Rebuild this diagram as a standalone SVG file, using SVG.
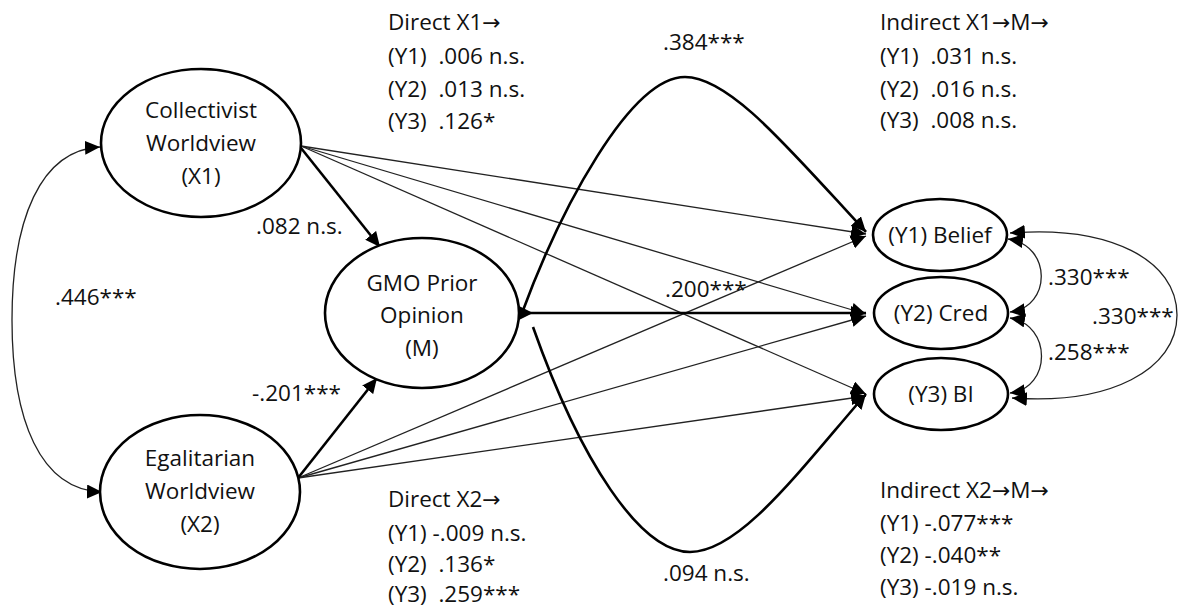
<svg xmlns="http://www.w3.org/2000/svg" width="1183" height="610" viewBox="0 0 1183 610">
  <style>
    text { font-family: "Open Sans", "Noto Sans", "Liberation Sans", sans-serif; font-size: 22.5px; fill: #111; white-space: pre; }
    .ar { font-family: "DejaVu Sans", sans-serif; font-size: 22px; }
    .node ellipse { fill: #fff; stroke: #000; stroke-width: 2.6; }
    .lbl { text-anchor: middle; }
    .thin { fill: none; stroke: #222; stroke-width: 1.3; marker-end: url(#arr); }
    .thick { fill: none; stroke: #000; stroke-width: 2.6; marker-end: url(#arr); }
    .cov { fill: none; stroke: #222; stroke-width: 1.3; marker-start: url(#arr); marker-end: url(#arr); }
  </style>
  <defs>
    <marker id="arr" markerUnits="userSpaceOnUse" markerWidth="16" markerHeight="14" refX="15" refY="7" orient="auto-start-reverse">
      <path d="M0,0 L15,7 L0,14 z" fill="#000"/>
    </marker>
  </defs>
  <rect width="1183" height="610" fill="#fff"/>

  <!-- paths and covariances -->
  <g id="connectors">
    <!-- X1 direct paths -->
    <line class="thin" x1="301" y1="146" x2="866" y2="234"/>
    <line class="thin" x1="301" y1="146" x2="866" y2="314"/>
    <line class="thin" x1="301" y1="146" x2="866" y2="394"/>
    <!-- X2 direct paths -->
    <line class="thin" x1="298" y1="478" x2="866" y2="236"/>
    <line class="thin" x1="298" y1="478" x2="866" y2="316"/>
    <line class="thin" x1="298" y1="478" x2="866" y2="396"/>
    <!-- X to mediator -->
    <line class="thick" x1="301" y1="148" x2="380" y2="247"/>
    <line class="thick" x1="298" y1="478" x2="377" y2="378"/>
    <!-- mediator to outcomes -->
    <line class="thick" x1="522" y1="313" x2="866" y2="313"/>
    <path class="thick" d="M522,313 C560,210 630,77 685,77 C730,77 790,150 866,232"/>
    <path class="thick" d="M533,327 C580,460 640,552 690,552 C740,552 800,470 866,394"/>
    <polygon points="519,306 519,320 533,313" fill="#000"/>
    <!-- covariances -->
    <path class="cov" d="M100,147 C40,150 12,220 12,320 C12,420 40,490 102,492"/>
    <path class="cov" d="M1008,239 C1052,245 1052,307 1010,312"/>
    <path class="cov" d="M1010,318 C1052,325 1052,388 1010,393"/>
    <path class="cov" d="M1010,233 C1110,225 1177,260 1177,315 C1177,370 1110,405 1012,398"/>
  </g>

  <g id="x1" class="node">
    <ellipse cx="201" cy="143" rx="100" ry="74"/>
    <text class="lbl" x="201" y="118">Collectivist</text>
    <text class="lbl" x="201" y="151">Worldview</text>
    <text class="lbl" x="201" y="184">(X1)</text>
  </g>
  <g id="x2" class="node">
    <ellipse cx="200" cy="492" rx="100" ry="77"/>
    <text class="lbl" x="200" y="466">Egalitarian</text>
    <text class="lbl" x="200" y="499">Worldview</text>
    <text class="lbl" x="200" y="532">(X2)</text>
  </g>
  <g id="m" class="node">
    <ellipse cx="422" cy="313" rx="97" ry="75"/>
    <text class="lbl" x="422" y="291">GMO Prior</text>
    <text class="lbl" x="422" y="323">Opinion</text>
    <text class="lbl" x="422" y="356">(M)</text>
  </g>
  <g id="y1" class="node">
    <ellipse cx="940" cy="235" rx="67" ry="36"/>
    <text class="lbl" x="940" y="243">(Y1) Belief</text>
  </g>
  <g id="y2" class="node">
    <ellipse cx="941" cy="313" rx="67" ry="36"/>
    <text class="lbl" x="941" y="321">(Y2) Cred</text>
  </g>
  <g id="y3" class="node">
    <ellipse cx="941" cy="394" rx="67" ry="36"/>
    <text class="lbl" x="941" y="402">(Y3) BI</text>
  </g>

  <!-- coefficient labels -->
  <g id="coefficients">
    <text x="55" y="305">.446***</text>
    <text x="256" y="234">.082 n.s.</text>
    <text x="252" y="401">-.201***</text>
    <text x="663" y="50">.384***</text>
    <text x="665" y="297">.200***</text>
    <text x="663" y="581">.094 n.s.</text>
    <text x="1048" y="285">.330***</text>
    <text x="1092" y="324">.330***</text>
    <text x="1048" y="360">.258***</text>
  </g>

  <g id="direct-x1">
    <text x="388" y="30">Direct X1<tspan class="ar">→</tspan></text>
    <text x="388" y="64">(Y1)  .006 n.s.</text>
    <text x="388" y="97">(Y2)  .013 n.s.</text>
    <text x="388" y="129">(Y3)  .126*</text>
  </g>
  <g id="indirect-x1">
    <text x="880" y="30">Indirect X1<tspan class="ar">→</tspan>M<tspan class="ar">→</tspan></text>
    <text x="880" y="64">(Y1)  .031 n.s.</text>
    <text x="880" y="97">(Y2)  .016 n.s.</text>
    <text x="880" y="128">(Y3)  .008 n.s.</text>
  </g>
  <g id="direct-x2">
    <text x="388" y="507">Direct X2<tspan class="ar">→</tspan></text>
    <text x="388" y="541">(Y1) -.009 n.s.</text>
    <text x="388" y="572">(Y2)  .136*</text>
    <text x="388" y="602">(Y3)  .259***</text>
  </g>
  <g id="indirect-x2">
    <text x="880" y="498">Indirect X2<tspan class="ar">→</tspan>M<tspan class="ar">→</tspan></text>
    <text x="880" y="531">(Y1) -.077***</text>
    <text x="880" y="563">(Y2) -.040**</text>
    <text x="880" y="595">(Y3) -.019 n.s.</text>
  </g>
</svg>
